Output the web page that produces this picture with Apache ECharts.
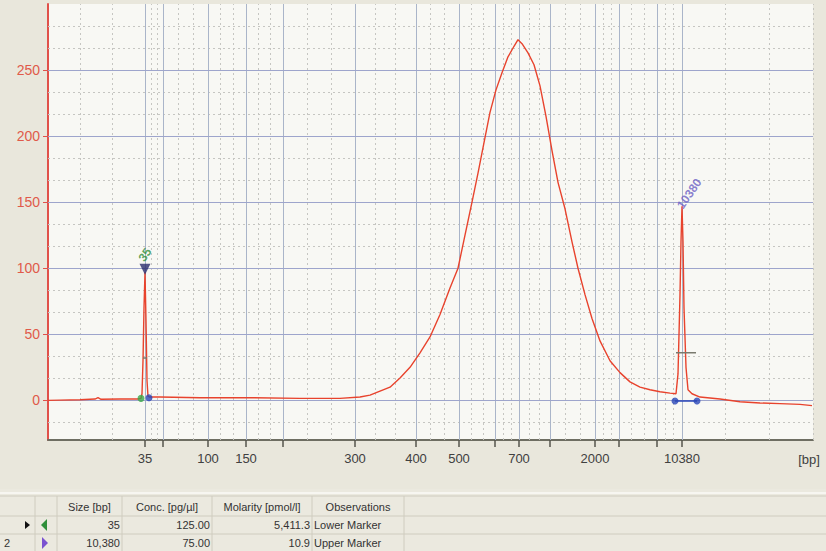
<!DOCTYPE html>
<html><head><meta charset="utf-8">
<script src="https://cdn.jsdelivr.net/npm/echarts@6/dist/echarts.min.js"></script>
<style>html,body{margin:0;padding:0;background:#e9e7dc;}#c{width:826px;height:551px;}</style>
</head><body><div id="c"></div>
<script>
// ---- data ----
const ladderSizes = [35,50,100,150,200,300,400,500,600,700,1000,2000,3000,7000,10380];
const ladderTimes = [49.7,51.5,56.0,59.8,63.5,70.7,76.8,81.1,84.7,87.1,90.2,94.7,97.1,100.9,103.4];
const labeledSizes = [35,100,150,300,400,500,700,2000,10380];
const yTickLabels = [0,50,100,150,200,250];

const traceTime = [40.0,41.2,43.2,44.7,45.0,45.3,47.2,49.0,49.3,49.4,
  49.5,49.6,49.7,49.8,49.9,50.0,50.2,51.2,55.2,60.2,
  65.2,69.2,71.2,72.2,73.2,74.2,75.2,76.2,77.2,78.2,
  79.2,80.2,81.0,81.7,82.4,83.0,83.6,84.2,84.8,85.4,
  86.0,86.6,87.0,87.4,88.0,88.6,89.2,89.8,90.4,91.0,
  91.7,92.4,93.0,93.7,94.4,95.2,96.2,97.2,98.2,99.2,
  100.2,101.2,102.2,102.8,103.0,103.2,103.3,103.4,103.5,103.6,
  103.8,104.0,104.4,105.2,107.2,109.2,111.2,113.2,115.2,116.4];
const traceFU = [0,0.2,0.5,1,2,0.8,1,1,1.5,5,
  30,70,97,60,15,3,2.5,2.5,2,2,
  1.5,1.5,2.5,4,7,10,17,25,36,48,
  65,85,100,125,150,172,195,218,235,248,
  260,268,273,270,263,254,238,215,189,165,
  145,120,100,80,62,45,30,21,14,10,
  8,6.5,5.5,5,20,80,120,147,120,70,
  25,8,5,2.5,1,-1,-2,-2.5,-3,-4];

const markerNames = ['35','10380'];
const markerTimes = [49.7,103.4];
const markerFU = [97,147];
const peakStartTimes = [49.3,102.7];
const peakEndTimes = [50.1,104.9];
const peakStartFU = [1.5,-0.5];
const peakEndFU = [2,-0.5];
const halfFU = [32,36];
const halfStartTimes = [49.5,102.8];
const halfEndTimes = [49.9,104.8];

const tableHeaders = ['Size [bp]','Conc. [pg/µl]','Molarity [pmol/l]','Observations'];
const rowSizes = ['35','10,380'];
const rowConc = ['125.00','75.00'];
const rowMolarity = ['5,411.3','10.9'];
const rowObs = ['Lower Marker','Upper Marker'];

// ---- build ----
const X_MIN = 40, X_MAX = 116.5, Y_MIN = -30, Y_MAX = 300;
const labelTimes = labeledSizes.map(s => ladderTimes[ladderSizes.indexOf(s)]);
const bounds = [X_MIN].concat(ladderTimes, [X_MAX]);
const minorX = [];
for (let i = 0; i < bounds.length - 1; i++) {
  const a = bounds[i], c = bounds[i+1];
  minorX.push(a + (c-a)/3, a + 2*(c-a)/3);
}
minorX.push(X_MAX);
const minorY = [];
for (let k = -1; k < 18; k++) if (k % 3 !== 0) minorY.push(k*50/3);

const gridLineSeries = (arr, axis, style) => ({
  type: 'line', data: [], silent: true, z: 1, animation: false,
  markLine: { silent: true, symbol: ['none','none'], label: {show:false}, animation:false,
    lineStyle: style, data: arr.map(v => ({[axis]: v})) }
});

const peakColors = ['#2f8f3a', '#6c5fc4'];
const startColors = ['#3aa84a', '#2946b8'];

const FONT = '"Liberation Sans", Arial, sans-serif';

// table graphics
const colX = [0,35,57,122,212,312,404,826];
const rowY = [496,516,534,551];
const g = [];
g.push({type:'rect', shape:{x:0,y:489,width:826,height:62}, style:{fill:'#ebe9df'}, silent:true});
g.push({type:'rect', shape:{x:0,y:492,width:826,height:2}, style:{fill:'#f7f6f1'}, silent:true});
rowY.slice(0,3).forEach(y => g.push({type:'line', shape:{x1:0,y1:y,x2:826,y2:y}, style:{stroke:'#cfccbf',lineWidth:1}, silent:true}));
colX.slice(1,7).forEach(x => g.push({type:'line', shape:{x1:x,y1:496,x2:x,y2:551}, style:{stroke:'#cfccbf',lineWidth:1}, silent:true}));
tableHeaders.forEach((h,i) => g.push({type:'text', x:(colX[i+2]+colX[i+3])/2, y:(rowY[0]+rowY[1])/2 + 1,
  style:{text:h, fill:'#333', font:'11px '+FONT, textAlign:'center', textVerticalAlign:'middle'}, silent:true}));
for (let r = 0; r < 2; r++) {
  const cy = (rowY[r+1]+rowY[r+2])/2;
  [rowSizes[r], rowConc[r], rowMolarity[r]].forEach((t,i) => g.push({type:'text', x:colX[i+3]-2, y:cy,
    style:{text:t, fill:'#333', font:'11px '+FONT, textAlign:'right', textVerticalAlign:'middle'}, silent:true}));
  g.push({type:'text', x:colX[5]+2, y:cy, style:{text:rowObs[r], fill:'#333', font:'11px '+FONT, textAlign:'left', textVerticalAlign:'middle'}, silent:true});
}
// row indicators
g.push({type:'polygon', shape:{points:[[25,521],[25,529],[30,525]]}, style:{fill:'#111'}, silent:true});
g.push({type:'text', x:4, y:(rowY[2]+rowY[3])/2, style:{text:'2', fill:'#333', font:'11px '+FONT, textVerticalAlign:'middle'}, silent:true});
g.push({type:'polygon', shape:{points:[[47,519],[47,531],[41,525]]}, style:{fill:peakColors[0]}, silent:true});
g.push({type:'polygon', shape:{points:[[42,537],[42,549],[48,543]]}, style:{fill:'#7b52d0'}, silent:true});

const series = [
  gridLineSeries(minorX, 'xAxis', {color:'#c6c6c2', type:[2,3], width:1}),
  gridLineSeries(minorY, 'yAxis', {color:'#c6c6c2', type:[2,3], width:1}),
  gridLineSeries(ladderTimes, 'xAxis', {color:'#aab5c9', type:'solid', width:1}),
  gridLineSeries(yTickLabels, 'yAxis', {color:'#9ea5cc', type:'solid', width:1}),
  {
    type:'line', name:'trace', z:5, showSymbol:false, animation:false,
    data: traceTime.map((t,i) => [t, traceFU[i]]),
    lineStyle:{color:'#e8432d', width:1.4}, itemStyle:{color:'#e8432d'}
  },
  ...halfFU.map((h,i) => ({type:'line', z:6, showSymbol:false, animation:false,
    data:[[halfStartTimes[i],h],[halfEndTimes[i],h]], lineStyle:{color:'#7a7a6e', width:1.5}})),
  {type:'line', z:6, showSymbol:false, animation:false,
    data:[[peakStartTimes[1],peakStartFU[1]],[peakEndTimes[1],peakEndFU[1]]], lineStyle:{color:'#2946b8', width:1.5}},
  {type:'scatter', z:7, animation:false, symbolSize:7,
    data: peakStartTimes.map((t,i) => ({value:[t,peakStartFU[i]], itemStyle:{color:startColors[i]}}))},
  {type:'scatter', z:7, animation:false, symbolSize:7,
    data: peakEndTimes.map((t,i) => ({value:[t,peakEndFU[i]], itemStyle:{color:'#2946b8'}}))},
  {type:'scatter', z:8, animation:false,
    data: markerTimes.map((t,i) => ({
      value:[t, markerFU[i]],
      symbol: i === 0 ? 'triangle' : 'circle',
      symbolRotate: i === 0 ? 180 : 0,
      symbolSize: i === 0 ? 11 : 0,
      symbolOffset: i === 0 ? [0,-3] : [0,0],
      itemStyle:{color:'#2a2c6e'},
      label:{show:true, formatter:markerNames[i], position:'top',
        distance: i === 0 ? 9 : 2,
        offset: i === 0 ? [0,0] : [-4,0],
        rotate:55, align: i === 0 ? 'center' : 'left', verticalAlign:'middle',
        color:peakColors[i], fontSize:12, fontWeight:'bold', fontFamily:FONT}
    }))}
];

const chart = echarts.init(document.getElementById('c'), null, {renderer:'svg'});
chart.setOption({
  backgroundColor:'#e9e7dc',
  animation:false,
  grid:{left:48, right:13, top:4, bottom:111, show:true, backgroundColor:'#f8f8f4', borderWidth:0},
  xAxis:{
    type:'value', min:X_MIN, max:X_MAX,
    name:'[bp]', nameLocation:'end', nameGap:-4,
    nameTextStyle:{color:'#404040', fontSize:13, fontFamily:FONT, align:'center', verticalAlign:'top', padding:[13,0,0,0]},
    axisLine:{show:true, onZero:false, lineStyle:{color:'#6e6e62', width:2}},
    axisTick:{show:true, length:7, customValues:ladderTimes, lineStyle:{color:'#55554c', width:1.5}},
    axisLabel:{customValues:labelTimes, margin:12, color:'#404040', fontSize:13, fontFamily:FONT,
      formatter: v => { const i = ladderTimes.findIndex(t => Math.abs(t - v) < 1e-6); return i >= 0 ? String(ladderSizes[i]) : ''; }},
    splitLine:{show:false}
  },
  yAxis:{
    type:'value', min:Y_MIN, max:Y_MAX,
    axisLine:{show:true, onZero:false, lineStyle:{color:'#e0514a', width:2}},
    axisTick:{show:true, length:5, customValues:yTickLabels, lineStyle:{color:'#e0514a'}},
    axisLabel:{customValues:yTickLabels, margin:8, color:'#e05a4a', fontSize:14, fontFamily:FONT},
    splitLine:{show:false}
  },
  graphic: g,
  series: series
});
</script>
</body></html>
